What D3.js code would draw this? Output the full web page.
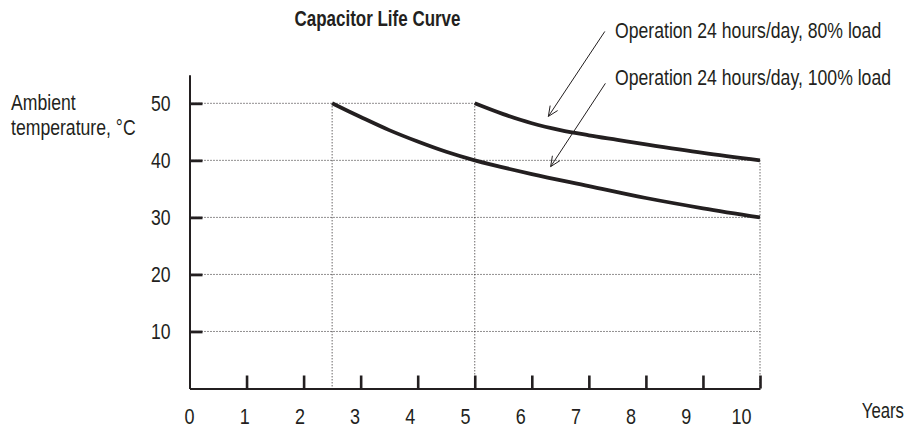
<!DOCTYPE html>
<html>
<head>
<meta charset="utf-8">
<script src="https://cdn.jsdelivr.net/npm/d3@7"></script>
<style>
  html, body { margin: 0; padding: 0; background: #fff; }
  svg { display: block; }
  text { font-family: "Liberation Sans", Arial, sans-serif; fill: #231f20; }
</style>
</head>
<body>
<svg id="chart" width="907" height="428"></svg>
<script>
// Capacitor life: ambient temperature (°C) versus expected years of service
const title = "Capacitor Life Curve";
const yearTicks = [0, 1, 2, 3, 4, 5, 6, 7, 8, 9, 10];
const tempTicks = [10, 20, 30, 40, 50];

const load100 = [
  [2.5, 50], [3, 47.6], [3.5, 45.3], [4, 43.3], [4.5, 41.5], [5, 40],
  [6, 37.6], [7, 35.5], [8, 33.4], [9, 31.6], [10, 30]
];
const load80 = [
  [5, 50], [5.5, 48.1], [6, 46.5], [6.5, 45.3], [7, 44.4], [7.5, 43.6],
  [8, 42.8], [9, 41.3], [10, 40]
];

// Callouts: label, arrow tail and arrow head in [years, °C]
const callouts = [
  { label: "Operation 24 hours/day, 80% load",  tail: [7.28, 62.6], head: [6.29, 47.7] },
  { label: "Operation 24 hours/day, 100% load", tail: [7.29, 53.5], head: [6.33, 38.9] }
];

const ink = "#231f20";
const fontSize = 22.5;
const svg = d3.select("#chart");

// Condensed lettering: squeeze each text horizontally about its own anchor x
function narrow(sel, factor = 0.784) {
  sel.each(function () {
    const ax = +(this.getAttribute("x") || 0);
    d3.select(this).attr("transform",
      `translate(${ax},0) scale(${factor},1) translate(${-ax},0)`);
  });
}

const x = d3.scaleLinear().domain([0, 10]).range([189.5, 760]);
const y = d3.scaleLinear().domain([0, 55]).range([388.5, 74.8]);
// year numbers sit on a slightly tighter spacing than the tick marks
const xLabel = d3.scaleLinear().domain([0, 10]).range([189, 741]);

// Dotted guide lines
const curves = [load100, load80];
const xMax = x.domain()[1];
const guides = svg.append("g")
  .attr("stroke", ink).attr("stroke-width", 1).attr("stroke-dasharray", "1,2").attr("fill", "none");

tempTicks.forEach(t => {
  const starts = curves.filter(c => c[0][1] === t).map(c => c[0][0]);
  const to = starts.length ? d3.max(starts) : xMax;
  guides.append("line")
    .attr("x1", x(0)).attr("x2", x(to)).attr("y1", y(t)).attr("y2", y(t));
});
curves.forEach(c => {
  guides.append("line")
    .attr("x1", x(c[0][0])).attr("x2", x(c[0][0]))
    .attr("y1", y(c[0][1])).attr("y2", y(0));
});
guides.append("line")
  .attr("x1", x(xMax)).attr("x2", x(xMax))
  .attr("y1", y(d3.max(curves, c => c[c.length - 1][1]))).attr("y2", y(0));

// Axes
const xAxis = svg.append("g")
  .attr("transform", `translate(0,${y(0)})`)
  .call(d3.axisBottom(x).tickValues(yearTicks.slice(1)).tickSize(-13).tickSizeOuter(0).tickFormat(""));
xAxis.select(".domain").attr("stroke", ink).attr("stroke-width", 2);
xAxis.selectAll(".tick line").attr("stroke", ink).attr("stroke-width", 2.6);

const xLabels = svg.append("g")
  .attr("transform", `translate(0,${y(0)})`)
  .call(d3.axisBottom(xLabel).tickValues(yearTicks).tickSize(0).tickPadding(20).tickFormat(d3.format("d")));
xLabels.select(".domain").remove();
xLabels.selectAll("text").attr("font-size", fontSize).attr("font-family", null).attr("fill", ink).call(narrow, 0.8);

const yAxis = svg.append("g")
  .attr("transform", `translate(${x(0)},0)`)
  .call(d3.axisLeft(y).tickValues(tempTicks).tickSize(-13).tickSizeOuter(0).tickPadding(19).tickFormat(d3.format("d")));
yAxis.select(".domain").attr("stroke", ink).attr("stroke-width", 2);
yAxis.selectAll(".tick line").attr("stroke", ink).attr("stroke-width", 2.8);
yAxis.selectAll("text").attr("font-size", fontSize).attr("font-family", null).attr("fill", ink).call(narrow);

// Life curves
const line = d3.line().x(d => x(d[0])).y(d => y(d[1])).curve(d3.curveCatmullRom.alpha(0.5));
svg.append("g").selectAll("path").data(curves).join("path")
  .attr("d", line)
  .attr("fill", "none").attr("stroke", ink).attr("stroke-width", 3.8);

// Callout arrows with open heads
const arrows = svg.append("g").attr("stroke", ink).attr("stroke-width", 1).attr("fill", "none");
callouts.forEach(c => {
  const [tx, ty] = [x(c.tail[0]), y(c.tail[1])];
  const [hx, hy] = [x(c.head[0]), y(c.head[1])];
  arrows.append("line").attr("x1", tx).attr("y1", ty).attr("x2", hx).attr("y2", hy);
  const ang = Math.atan2(ty - hy, tx - hx);
  const len = 11, spread = 0.42;
  const p1 = [hx + len * Math.cos(ang + spread), hy + len * Math.sin(ang + spread)];
  const p2 = [hx + len * Math.cos(ang - spread), hy + len * Math.sin(ang - spread)];
  arrows.append("path").attr("d", `M${p1}L${hx},${hy}L${p2}`);
});

svg.append("g").selectAll("text").data(callouts).join("text")
  .attr("x", 615)
  .attr("y", (d, i) => 38 + i * 47)
  .attr("font-size", fontSize)
  .text(d => d.label)
  .call(narrow);

// Titles
svg.append("text")
  .attr("x", 377.5).attr("y", 26)
  .attr("text-anchor", "middle")
  .attr("font-size", fontSize).attr("font-weight", "bold")
  .text(title)
  .call(narrow, 0.755);

svg.append("text")
  .attr("x", 11).attr("y", 110)
  .attr("font-size", fontSize)
  .call(narrow)
  .selectAll("tspan").data(["Ambient", "temperature, °C"]).join("tspan")
  .attr("x", 11).attr("dy", (d, i) => i ? 25 : 0)
  .text(d => d);

svg.append("text")
  .attr("x", 904).attr("y", 418)
  .attr("text-anchor", "end")
  .attr("font-size", fontSize)
  .text("Years")
  .call(narrow, 0.745);
</script>
</body>
</html>
